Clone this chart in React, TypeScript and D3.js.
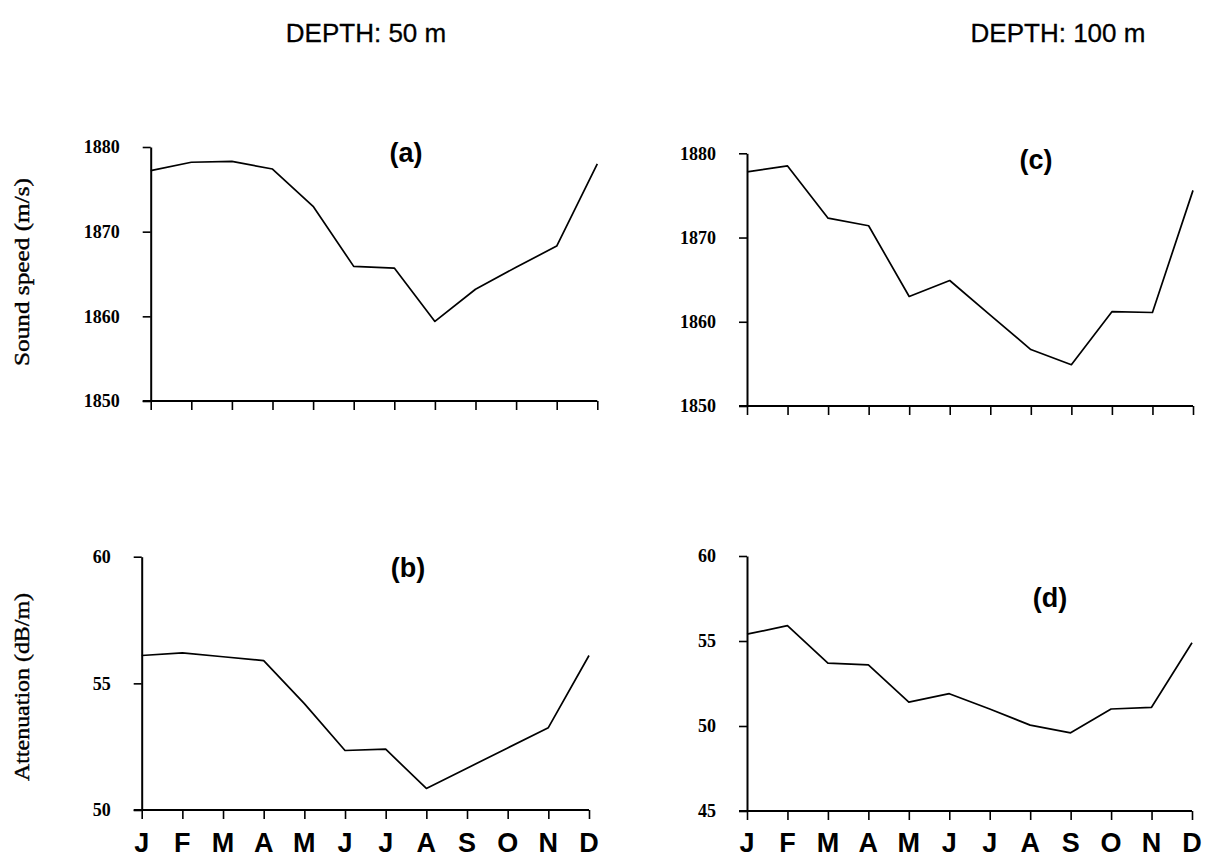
import React, { useRef, useEffect } from "react";
import * as d3 from "d3";

// month initials on the x axis
const months = ["J", "F", "M", "A", "M", "J", "J", "A", "S", "O", "N", "D"];

// sound speed (m/s)
const speed50 = [1877.2, 1878.2, 1878.3, 1877.4, 1873.0, 1865.9, 1865.7, 1859.4, 1863.2, 1865.8, 1868.3, 1878.0];
const speed100 = [1877.8, 1878.5, 1872.3, 1871.4, 1863.0, 1864.9, 1860.8, 1856.7, 1854.9, 1861.2, 1861.1, 1875.6];

// attenuation (dB/m)
const atten50 = [56.1, 56.2, 56.05, 55.9, 54.2, 52.35, 52.4, 50.85, 51.65, 52.45, 53.25, 56.1];
const atten100 = [55.4, 55.9, 53.7, 53.6, 51.4, 51.9, 51.0, 50.05, 49.6, 51.0, 51.1, 54.9];

const speedTicks = [1850, 1860, 1870, 1880];
const atten50Ticks = [50, 55, 60];
const atten100Ticks = [45, 50, 55, 60];

const W = 1219;
const H = 857;

const SANS = "'Liberation Sans', Arial, Helvetica, sans-serif";
const SERIF = "'Liberation Serif', 'Times New Roman', Times, serif";

const panels = [
  { id: "a", data: speed50, domain: [1850, 1880], ticks: speedTicks, x0: 150.7, x1: 597.3, top: 147, bottom: 401, months: false, lx: 406, ly: 162 },
  { id: "b", data: atten50, domain: [50, 60], ticks: atten50Ticks, x0: 141.7, x1: 589, top: 556.7, bottom: 810, months: true, lx: 408, ly: 577 },
  { id: "c", data: speed100, domain: [1850, 1880], ticks: speedTicks, x0: 747, x1: 1193, top: 153.3, bottom: 406, months: false, lx: 1036, ly: 169 },
  { id: "d", data: atten100, domain: [45, 60], ticks: atten100Ticks, x0: 747, x1: 1192, top: 556, bottom: 811, months: true, lx: 1050, ly: 607 },
];

const App = () => {
  const svgRef = useRef(null);

  useEffect(() => {
    const svg = d3.select(svgRef.current);
    svg.selectAll("*").remove();

    svg.append("rect").attr("width", W).attr("height", H).attr("fill", "#fff");

    // column titles
    [["DEPTH: 50 m", 366], ["DEPTH: 100 m", 1058]].forEach(([t, x]) => {
      svg.append("text")
        .attr("x", x)
        .attr("y", 42)
        .attr("text-anchor", "middle")
        .attr("font-family", SANS)
        .attr("font-size", 26)
        .attr("fill", "#000")
        .attr("stroke", "#000")
        .attr("stroke-width", 0.3)
        .text(t);
    });

    // y axis titles
    [["Sound speed (m/s)", 272], ["Attenuation (dB/m)", 687]].forEach(([t, y]) => {
      svg.append("text")
        .attr("transform", `translate(29,${y}) rotate(-90)`)
        .attr("text-anchor", "middle")
        .attr("font-family", SERIF)
        .attr("font-size", 22)
        .attr("textLength", 188)
        .attr("lengthAdjust", "spacingAndGlyphs")
        .attr("fill", "#000")
        .attr("stroke", "#000")
        .attr("stroke-width", 0.4)
        .text(t);
    });

    panels.forEach(p => {
      const x = d3.scaleLinear().domain([0, months.length - 1]).range([p.x0, p.x1]);
      const y = d3.scaleLinear().domain(p.domain).range([p.bottom, p.top]);
      const g = svg.append("g");

      // left axis
      const ya = g.append("g")
        .attr("transform", `translate(${p.x0},0)`)
        .call(d3.axisLeft(y).tickValues(p.ticks).tickSize(8).tickSizeOuter(0).tickPadding(23).tickFormat(d3.format("d")));
      ya.select(".domain").attr("stroke-width", 2);
      ya.selectAll(".tick line").attr("stroke-width", 1.6);
      ya.selectAll(".tick text")
        .attr("font-family", SERIF)
        .attr("font-weight", "bold")
        .attr("font-size", 18)
        .attr("fill", "#000");

      // bottom axis
      const xa = g.append("g")
        .attr("transform", `translate(0,${p.bottom})`)
        .call(d3.axisBottom(x).tickValues(d3.range(months.length)).tickSize(9).tickSizeOuter(0).tickFormat(() => ""));
      xa.select(".domain").attr("stroke-width", 2).attr("d", `M${p.x0 - 8},0H${p.x1}`);
      xa.selectAll(".tick line").attr("stroke-width", 1.6);

      if (p.months) {
        g.selectAll(".month")
          .data(months)
          .enter()
          .append("text")
          .attr("class", "month")
          .attr("x", (_, i) => x(i))
          .attr("y", 852)
          .attr("text-anchor", "middle")
          .attr("font-family", SANS)
          .attr("font-weight", "bold")
          .attr("font-size", 27)
          .attr("fill", "#000")
          .text(d => d);
      }

      const line = d3.line()
        .x((_, i) => x(i))
        .y(d => y(d));

      g.append("path")
        .datum(p.data)
        .attr("fill", "none")
        .attr("stroke", "#000")
        .attr("stroke-width", 1.7)
        .attr("stroke-linejoin", "round")
        .attr("d", line);

      g.append("text")
        .attr("x", p.lx)
        .attr("y", p.ly)
        .attr("text-anchor", "middle")
        .attr("font-family", SANS)
        .attr("font-weight", "bold")
        .attr("font-size", 27)
        .attr("fill", "#000")
        .text(`(${p.id})`);
    });
  }, []);

  return (
    <svg
      ref={svgRef}
      width={W}
      height={H}
      style={{ position: "absolute", left: 0, top: 0, display: "block" }}
    ></svg>
  );
};

export default App;
